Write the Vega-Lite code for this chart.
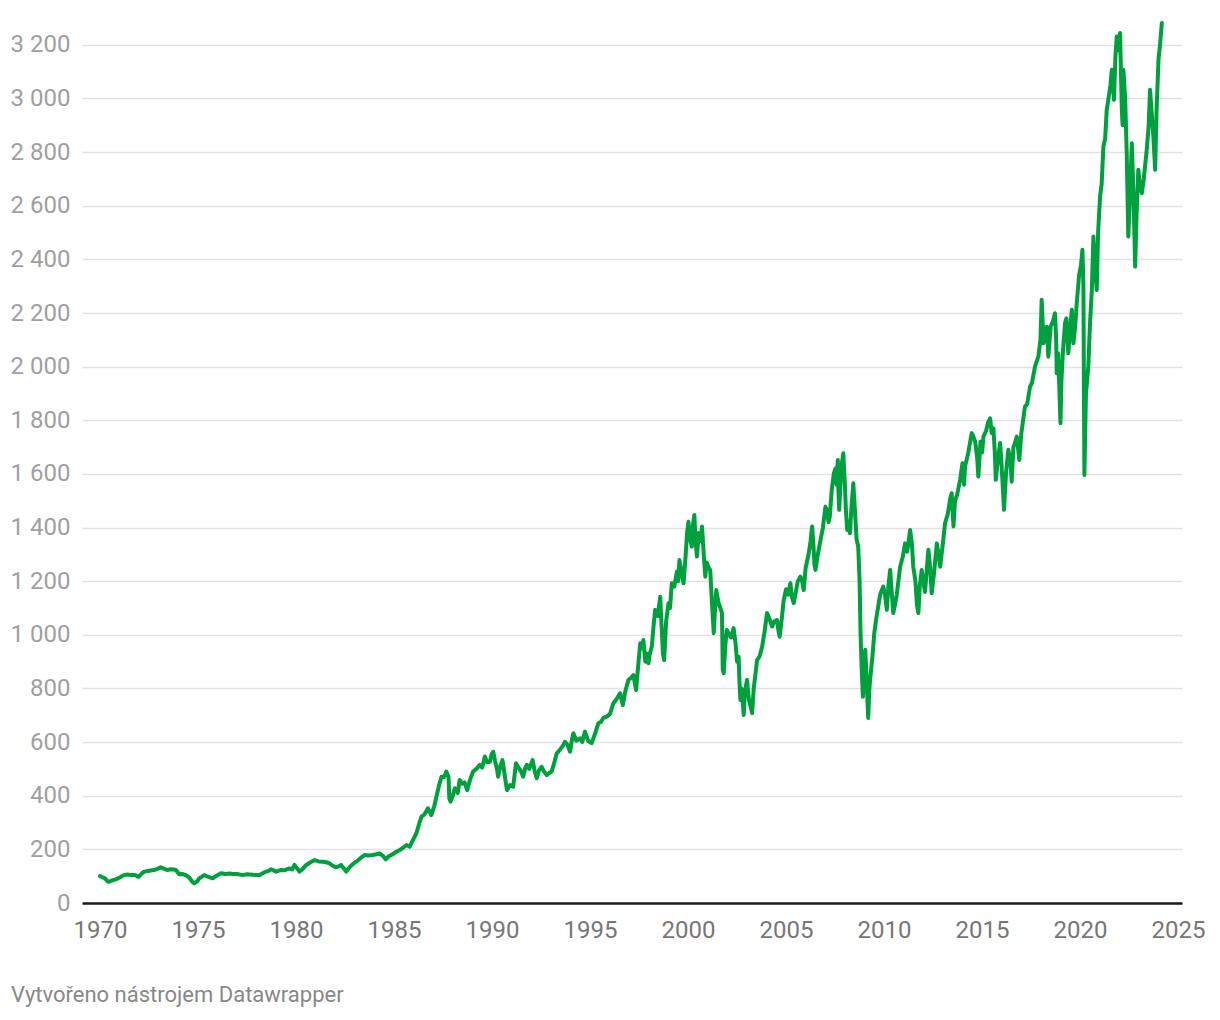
{
"$schema": "https://vega.github.io/schema/vega-lite/v6.json",
"width": 1100,
"height": 885,
"autosize": {"type": "none"},
"padding": {"left": 82, "top": 18, "right": 38, "bottom": 117},
"background": "white",
"config": {"view": {"stroke": null}, "font": "Roboto"},
"title": {"text": "Vytvořeno nástrojem Datawrapper", "orient": "bottom", "anchor": "start", "frame": "group", "dx": -71, "offset": 43, "fontSize": 22, "fontWeight": "normal", "color": "#888888", "font": "Roboto"},
"data": {"values": [
{"year":1970.00,"value":100},{"year":1970.10,"value":97},{"year":1970.25,"value":92},{"year":1970.40,"value":80},{"year":1970.46,"value":79},{"year":1970.60,"value":84},{"year":1970.80,"value":88},{"year":1971.00,"value":95},{"year":1971.23,"value":104},{"year":1971.40,"value":106},{"year":1971.60,"value":104},{"year":1971.80,"value":104},{"year":1971.96,"value":97},{"year":1972.10,"value":108},{"year":1972.25,"value":117},{"year":1972.50,"value":120},{"year":1972.76,"value":123},{"year":1972.95,"value":128},{"year":1973.10,"value":133},{"year":1973.25,"value":128},{"year":1973.44,"value":123},{"year":1973.60,"value":126},{"year":1973.75,"value":125},{"year":1973.87,"value":123},{"year":1974.04,"value":107},{"year":1974.20,"value":108},{"year":1974.38,"value":104},{"year":1974.55,"value":95},{"year":1974.70,"value":80},{"year":1974.80,"value":73},{"year":1974.95,"value":80},{"year":1975.06,"value":92},{"year":1975.20,"value":98},{"year":1975.32,"value":104},{"year":1975.50,"value":98},{"year":1975.74,"value":92},{"year":1975.90,"value":100},{"year":1976.17,"value":111},{"year":1976.40,"value":108},{"year":1976.60,"value":110},{"year":1976.76,"value":108},{"year":1977.00,"value":108},{"year":1977.27,"value":104},{"year":1977.50,"value":107},{"year":1977.80,"value":105},{"year":1978.13,"value":104},{"year":1978.40,"value":115},{"year":1978.60,"value":120},{"year":1978.73,"value":126},{"year":1978.85,"value":122},{"year":1978.98,"value":117},{"year":1979.20,"value":123},{"year":1979.40,"value":122},{"year":1979.66,"value":129},{"year":1979.80,"value":125},{"year":1979.92,"value":142},{"year":1980.05,"value":130},{"year":1980.17,"value":117},{"year":1980.35,"value":128},{"year":1980.52,"value":142},{"year":1980.70,"value":150},{"year":1980.94,"value":160},{"year":1981.15,"value":155},{"year":1981.37,"value":154},{"year":1981.55,"value":152},{"year":1981.71,"value":148},{"year":1981.85,"value":140},{"year":1982.05,"value":133},{"year":1982.20,"value":138},{"year":1982.30,"value":142},{"year":1982.45,"value":128},{"year":1982.56,"value":117},{"year":1982.75,"value":135},{"year":1982.95,"value":148},{"year":1983.07,"value":154},{"year":1983.30,"value":168},{"year":1983.50,"value":179},{"year":1983.70,"value":177},{"year":1983.92,"value":179},{"year":1984.10,"value":182},{"year":1984.26,"value":185},{"year":1984.45,"value":175},{"year":1984.57,"value":163},{"year":1984.75,"value":175},{"year":1984.86,"value":179},{"year":1985.10,"value":190},{"year":1985.29,"value":198},{"year":1985.45,"value":205},{"year":1985.63,"value":216},{"year":1985.80,"value":210},
{"year":1986.00,"value":240},{"year":1986.14,"value":260},{"year":1986.30,"value":300},{"year":1986.40,"value":322},{"year":1986.55,"value":330},{"year":1986.73,"value":353},{"year":1986.90,"value":328},{"year":1987.05,"value":360},{"year":1987.16,"value":396},{"year":1987.30,"value":440},{"year":1987.42,"value":471},{"year":1987.55,"value":470},{"year":1987.67,"value":490},{"year":1987.78,"value":470},{"year":1987.82,"value":390},{"year":1987.88,"value":378},{"year":1988.00,"value":400},{"year":1988.10,"value":428},{"year":1988.25,"value":410},{"year":1988.35,"value":459},{"year":1988.50,"value":445},{"year":1988.60,"value":450},{"year":1988.73,"value":421},{"year":1988.88,"value":460},{"year":1989.03,"value":490},{"year":1989.20,"value":500},{"year":1989.38,"value":515},{"year":1989.50,"value":505},{"year":1989.63,"value":546},{"year":1989.75,"value":525},{"year":1989.89,"value":527},{"year":1989.98,"value":555},{"year":1990.06,"value":564},{"year":1990.15,"value":530},{"year":1990.25,"value":500},{"year":1990.31,"value":471},{"year":1990.42,"value":510},{"year":1990.53,"value":533},{"year":1990.62,"value":490},{"year":1990.72,"value":440},{"year":1990.77,"value":421},{"year":1990.92,"value":440},{"year":1991.08,"value":434},{"year":1991.22,"value":521},{"year":1991.35,"value":505},{"year":1991.45,"value":495},{"year":1991.59,"value":471},{"year":1991.70,"value":505},{"year":1991.77,"value":515},{"year":1991.90,"value":500},{"year":1992.07,"value":533},{"year":1992.18,"value":490},{"year":1992.28,"value":465},{"year":1992.40,"value":495},{"year":1992.53,"value":508},{"year":1992.65,"value":490},{"year":1992.79,"value":477},{"year":1992.92,"value":485},{"year":1993.04,"value":490},{"year":1993.20,"value":530},{"year":1993.30,"value":558},{"year":1993.45,"value":570},{"year":1993.60,"value":585},{"year":1993.72,"value":601},{"year":1993.85,"value":590},{"year":1993.98,"value":564},{"year":1994.08,"value":610},{"year":1994.15,"value":633},{"year":1994.30,"value":605},{"year":1994.49,"value":614},{"year":1994.60,"value":600},{"year":1994.74,"value":639},{"year":1994.90,"value":605},{"year":1995.08,"value":596},{"year":1995.25,"value":630},{"year":1995.42,"value":670},{"year":1995.55,"value":675},{"year":1995.68,"value":690},{"year":1995.85,"value":695},{"year":1996.02,"value":705},{"year":1996.19,"value":745},{"year":1996.35,"value":760},{"year":1996.53,"value":782},{"year":1996.67,"value":738},{"year":1996.80,"value":790},{"year":1996.96,"value":832},
{"year":1997.10,"value":840},{"year":1997.21,"value":850},{"year":1997.35,"value":794},{"year":1997.45,"value":880},{"year":1997.56,"value":969},{"year":1997.65,"value":950},{"year":1997.72,"value":981},{"year":1997.82,"value":900},{"year":1997.90,"value":930},{"year":1997.98,"value":894},{"year":1998.05,"value":930},{"year":1998.15,"value":956},{"year":1998.25,"value":1040},{"year":1998.32,"value":1093},{"year":1998.45,"value":1070},{"year":1998.58,"value":1142},{"year":1998.65,"value":1030},{"year":1998.72,"value":930},{"year":1998.78,"value":906},{"year":1998.88,"value":1050},{"year":1999.00,"value":1118},{"year":1999.08,"value":1100},{"year":1999.17,"value":1192},{"year":1999.30,"value":1180},{"year":1999.43,"value":1236},{"year":1999.50,"value":1200},{"year":1999.56,"value":1279},{"year":1999.65,"value":1240},{"year":1999.77,"value":1192},{"year":1999.88,"value":1300},{"year":1999.95,"value":1380},{"year":2000.02,"value":1422},{"year":2000.10,"value":1360},{"year":2000.19,"value":1329},{"year":2000.25,"value":1410},{"year":2000.32,"value":1447},{"year":2000.38,"value":1360},{"year":2000.45,"value":1292},{"year":2000.55,"value":1380},{"year":2000.65,"value":1350},{"year":2000.71,"value":1404},{"year":2000.80,"value":1300},{"year":2000.88,"value":1217},{"year":2000.95,"value":1270},{"year":2001.05,"value":1250},{"year":2001.13,"value":1242},{"year":2001.22,"value":1120},{"year":2001.31,"value":1006},{"year":2001.38,"value":1100},{"year":2001.44,"value":1167},{"year":2001.55,"value":1120},{"year":2001.65,"value":1100},{"year":2001.73,"value":1081},{"year":2001.77,"value":870},{"year":2001.82,"value":857},{"year":2001.90,"value":960},{"year":2001.98,"value":1018},{"year":2002.10,"value":1000},{"year":2002.20,"value":990},{"year":2002.32,"value":1025},{"year":2002.42,"value":970},{"year":2002.50,"value":900},{"year":2002.58,"value":919},{"year":2002.62,"value":830},{"year":2002.67,"value":757},{"year":2002.72,"value":800},{"year":2002.78,"value":760},{"year":2002.84,"value":701},{"year":2002.90,"value":790},{"year":2003.01,"value":832},{"year":2003.10,"value":760},{"year":2003.20,"value":730},{"year":2003.27,"value":708},{"year":2003.35,"value":800},{"year":2003.45,"value":860},{"year":2003.52,"value":906},{"year":2003.65,"value":920},{"year":2003.78,"value":956},{"year":2003.90,"value":1010},
{"year":2004.03,"value":1081},{"year":2004.15,"value":1060},{"year":2004.29,"value":1031},{"year":2004.40,"value":1050},{"year":2004.54,"value":1055},{"year":2004.60,"value":1020},{"year":2004.67,"value":993},{"year":2004.78,"value":1060},{"year":2004.88,"value":1130},{"year":2005.00,"value":1170},{"year":2005.10,"value":1150},{"year":2005.22,"value":1192},{"year":2005.30,"value":1140},{"year":2005.39,"value":1118},{"year":2005.50,"value":1160},{"year":2005.60,"value":1200},{"year":2005.73,"value":1217},{"year":2005.82,"value":1200},{"year":2005.90,"value":1167},{"year":2006.00,"value":1250},{"year":2006.16,"value":1304},{"year":2006.25,"value":1350},{"year":2006.33,"value":1404},{"year":2006.40,"value":1330},{"year":2006.45,"value":1260},{"year":2006.50,"value":1242},{"year":2006.62,"value":1300},{"year":2006.76,"value":1354},{"year":2006.88,"value":1400},{"year":2007.01,"value":1478},{"year":2007.10,"value":1460},{"year":2007.17,"value":1420},{"year":2007.23,"value":1441},{"year":2007.33,"value":1540},{"year":2007.44,"value":1602},{"year":2007.52,"value":1620},{"year":2007.58,"value":1560},{"year":2007.64,"value":1652},{"year":2007.67,"value":1540},{"year":2007.71,"value":1466},{"year":2007.80,"value":1600},{"year":2007.85,"value":1640},{"year":2007.92,"value":1677},{"year":2008.00,"value":1560},{"year":2008.05,"value":1470},{"year":2008.12,"value":1391},{"year":2008.20,"value":1420},{"year":2008.26,"value":1379},{"year":2008.34,"value":1480},{"year":2008.43,"value":1565},{"year":2008.50,"value":1480},{"year":2008.60,"value":1354},{"year":2008.68,"value":1330},{"year":2008.75,"value":1205},{"year":2008.80,"value":1006},{"year":2008.86,"value":870},{"year":2008.92,"value":769},{"year":2008.98,"value":880},{"year":2009.04,"value":944},{"year":2009.10,"value":850},{"year":2009.15,"value":760},{"year":2009.19,"value":690},{"year":2009.25,"value":800},{"year":2009.32,"value":857},{"year":2009.42,"value":930},{"year":2009.50,"value":1006},{"year":2009.60,"value":1060},{"year":2009.70,"value":1105},{"year":2009.80,"value":1150},{"year":2009.96,"value":1180},
{"year":2010.05,"value":1150},{"year":2010.14,"value":1093},{"year":2010.22,"value":1180},{"year":2010.31,"value":1242},{"year":2010.40,"value":1150},{"year":2010.47,"value":1081},{"year":2010.55,"value":1110},{"year":2010.65,"value":1150},{"year":2010.82,"value":1254},{"year":2010.95,"value":1290},{"year":2011.07,"value":1341},{"year":2011.18,"value":1310},{"year":2011.33,"value":1391},{"year":2011.42,"value":1340},{"year":2011.49,"value":1254},{"year":2011.60,"value":1200},{"year":2011.68,"value":1110},{"year":2011.75,"value":1081},{"year":2011.82,"value":1180},{"year":2011.92,"value":1242},{"year":2012.00,"value":1200},{"year":2012.09,"value":1160},{"year":2012.26,"value":1317},{"year":2012.35,"value":1250},{"year":2012.43,"value":1155},{"year":2012.55,"value":1230},{"year":2012.69,"value":1341},{"year":2012.78,"value":1300},{"year":2012.86,"value":1254},{"year":2013.00,"value":1340},{"year":2013.11,"value":1416},{"year":2013.25,"value":1450},{"year":2013.38,"value":1510},{"year":2013.45,"value":1528},{"year":2013.54,"value":1404},{"year":2013.62,"value":1500},{"year":2013.72,"value":1520},{"year":2013.88,"value":1578},{"year":2014.00,"value":1640},{"year":2014.08,"value":1560},{"year":2014.13,"value":1627},{"year":2014.30,"value":1680},{"year":2014.47,"value":1752},{"year":2014.55,"value":1740},{"year":2014.65,"value":1720},{"year":2014.75,"value":1660},{"year":2014.81,"value":1590},{"year":2014.92,"value":1720},{"year":2015.00,"value":1680},{"year":2015.07,"value":1739},{"year":2015.20,"value":1760},{"year":2015.30,"value":1790},{"year":2015.41,"value":1807},{"year":2015.49,"value":1752},{"year":2015.58,"value":1770},{"year":2015.65,"value":1680},{"year":2015.70,"value":1578},{"year":2015.80,"value":1650},{"year":2015.92,"value":1715},{"year":2016.00,"value":1627},{"year":2016.12,"value":1466},{"year":2016.22,"value":1600},{"year":2016.34,"value":1690},{"year":2016.45,"value":1650},{"year":2016.51,"value":1571},{"year":2016.60,"value":1700},{"year":2016.70,"value":1720},{"year":2016.77,"value":1739},{"year":2016.90,"value":1652},{"year":2017.00,"value":1750},{"year":2017.19,"value":1851},{"year":2017.30,"value":1860},{"year":2017.45,"value":1926},{"year":2017.55,"value":1940},{"year":2017.70,"value":2000},{"year":2017.87,"value":2037},{"year":2017.98,"value":2100},
{"year":2018.04,"value":2249},{"year":2018.10,"value":2150},{"year":2018.13,"value":2087},{"year":2018.20,"value":2120},{"year":2018.30,"value":2149},{"year":2018.38,"value":2037},{"year":2018.50,"value":2150},{"year":2018.62,"value":2170},{"year":2018.72,"value":2199},{"year":2018.78,"value":2100},{"year":2018.81,"value":1975},{"year":2018.88,"value":2050},{"year":2018.95,"value":1900},{"year":2019.00,"value":1789},{"year":2019.05,"value":1950},{"year":2019.12,"value":2050},{"year":2019.23,"value":2162},{"year":2019.30,"value":2180},{"year":2019.40,"value":2050},{"year":2019.50,"value":2150},{"year":2019.58,"value":2212},{"year":2019.66,"value":2087},{"year":2019.75,"value":2150},{"year":2019.83,"value":2236},{"year":2019.95,"value":2340},{"year":2020.05,"value":2380},{"year":2020.12,"value":2436},{"year":2020.17,"value":2300},{"year":2020.22,"value":1596},{"year":2020.30,"value":1900},{"year":2020.42,"value":2000},{"year":2020.50,"value":2150},{"year":2020.60,"value":2286},{"year":2020.68,"value":2485},{"year":2020.75,"value":2380},{"year":2020.85,"value":2286},{"year":2020.92,"value":2500},{"year":2021.02,"value":2634},{"year":2021.10,"value":2680},{"year":2021.19,"value":2821},{"year":2021.28,"value":2850},{"year":2021.36,"value":2958},{"year":2021.45,"value":3000},{"year":2021.55,"value":3050},{"year":2021.62,"value":3107},{"year":2021.73,"value":2995},{"year":2021.80,"value":3150},{"year":2021.87,"value":3231},{"year":2021.95,"value":3180},{"year":2022.04,"value":3244},{"year":2022.13,"value":2958},{"year":2022.17,"value":2900},{"year":2022.21,"value":3107},{"year":2022.30,"value":3000},{"year":2022.38,"value":2796},{"year":2022.46,"value":2485},{"year":2022.55,"value":2650},{"year":2022.64,"value":2833},{"year":2022.72,"value":2650},{"year":2022.81,"value":2373},{"year":2022.88,"value":2560},{"year":2022.97,"value":2734},{"year":2023.05,"value":2680},{"year":2023.15,"value":2647},{"year":2023.25,"value":2700},{"year":2023.40,"value":2808},{"year":2023.50,"value":2900},{"year":2023.57,"value":3032},{"year":2023.65,"value":2950},{"year":2023.74,"value":2858},{"year":2023.83,"value":2734},{"year":2023.90,"value":2950},{"year":2024.00,"value":3144},{"year":2024.08,"value":3200},{"year":2024.17,"value":3281}
]},
"mark": {"type": "line", "color": "#00a03e", "strokeWidth": 4, "strokeJoin": "round", "strokeCap": "round"},
"encoding": {
"x": {"field": "year", "type": "quantitative", "scale": {"domain": [1969.08, 2025.2], "nice": false, "zero": false},
"axis": {"title": null, "values": [1970,1975,1980,1985,1990,1995,2000,2005,2010,2015,2020,2025], "format": "d", "grid": false, "ticks": false, "tickSize": 0, "domain": true, "domainColor": "#1a1a1a", "domainWidth": 2.5, "labelFontSize": 24, "labelColor": "#777777", "labelPadding": 15, "labelFont": "Roboto", "labelOverlap": false, "labelBound": false, "labelFlush": false}},
"y": {"field": "value", "type": "quantitative", "scale": {"domain": [0, 3300], "nice": false},
"axis": {"title": null, "values": [0,200,400,600,800,1000,1200,1400,1600,1800,2000,2200,2400,2600,2800,3000,3200], "labelExpr": "replace(format(datum.value, ','), ',', ' ')", "grid": true, "gridColor": "#e2e2e2", "gridWidth": 1.5, "ticks": false, "tickSize": 0, "domain": false, "labelFontSize": 24, "labelColor": "#a0a0a0", "labelPadding": 12, "labelFont": "Roboto", "labelOverlap": false, "labelBound": false}}
}
}
